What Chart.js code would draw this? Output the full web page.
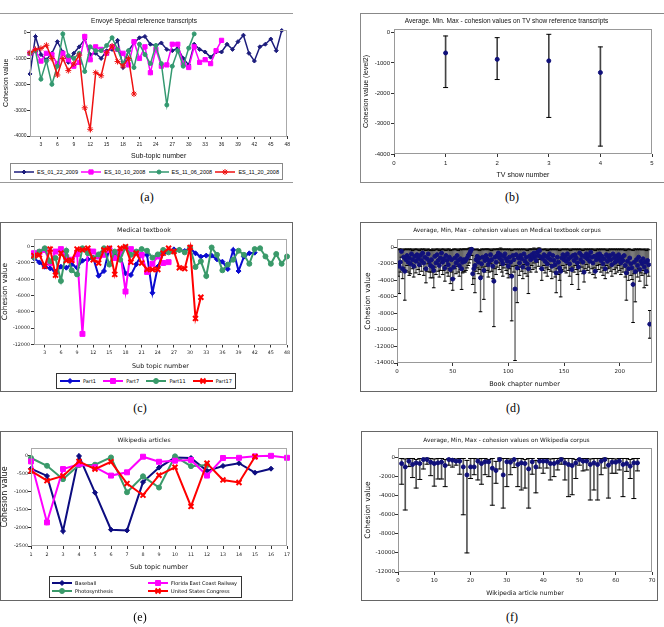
<!DOCTYPE html>
<html lang="en">
<head>
<meta charset="UTF-8">
<title>Cohesion values</title>
<script src="https://cdn.jsdelivr.net/npm/chart.js"></script>
<style>
  body { margin: 0; background: #fff; }
  #page { position: relative; width: 664px; height: 627px; overflow: hidden; }
  canvas.plot, .frame, .legend, .cap { position: absolute; }
  .frame { box-sizing: border-box; border: 1px solid #666; }
  .legend { box-sizing: border-box; border: 1px solid #333; display: flex; align-items: center;
            justify-content: space-between; padding: 0 3px; font-family: "DejaVu Sans", sans-serif;
            font-size: 5px; color: #000; background: #fff; }
  .legend .item { display: flex; align-items: center; white-space: nowrap; }
  .legend .item canvas { margin-right: 3px; }
  .legend.grid { display: grid; grid-template-columns: 96px 96px; grid-template-rows: 8px 8px;
                 grid-auto-flow: column; align-content: center; justify-content: start; padding: 0 0 0 2px; }
  .cap { width: 40px; text-align: center; font-family: "Liberation Serif", serif; font-size: 12px; line-height: 14px; }
</style>
</head>
<body>
<div id="page">
  <div class="frame" style="left:0;top:13px;width:293px;height:170px;border-left:none;border-right:none;border-color:#999"></div>
  <canvas class="plot" id="chartA" width="293" height="170" style="left:0;top:13px"></canvas>
  <div class="legend" id="legendA" style="left:10px;top:163px;width:273px;height:17px;border-color:#888;font-family:'Liberation Sans',sans-serif;font-size:5.5px"></div>
  <div class="cap" style="left:127px;top:190px">(a)</div>

  <div class="frame" style="left:360px;top:13px;width:304px;height:170px;border-right:none;border-color:#888"></div>
  <canvas class="plot" id="chartB" width="297" height="170" style="left:360px;top:13px"></canvas>
  <div class="cap" style="left:492px;top:190px">(b)</div>

  <div class="frame" style="left:0;top:222px;width:293px;height:170px"></div>
  <canvas class="plot" id="chartC" width="293" height="170" style="left:0;top:222px"></canvas>
  <div class="legend" id="legendC" style="left:56px;top:373px;width:180px;height:16px"></div>
  <div class="cap" style="left:120px;top:401px">(c)</div>

  <div class="frame" style="left:360px;top:222px;width:297px;height:170px"></div>
  <canvas class="plot" id="chartD" width="297" height="170" style="left:360px;top:222px"></canvas>
  <div class="cap" style="left:493px;top:401px">(d)</div>

  <div class="frame" style="left:0;top:431px;width:293px;height:170px"></div>
  <canvas class="plot" id="chartE" width="293" height="170" style="left:0;top:431px"></canvas>
  <div class="legend grid" id="legendE" style="left:49px;top:576px;width:193px;height:22px"></div>
  <div class="cap" style="left:120px;top:610px">(e)</div>

  <div class="frame" style="left:361px;top:431px;width:297px;height:170px"></div>
  <canvas class="plot" id="chartF" width="297" height="170" style="left:361px;top:431px"></canvas>
  <div class="cap" style="left:492px;top:610px">(f)</div>
</div>

<script>
// (a) Envoyé Spécial reference transcripts, cohesion per sub-topic
const esTopicTicks = [3, 6, 9, 12, 15, 18, 21, 24, 27, 30, 33, 36, 39, 42, 45, 48];
const esCohesionTicks = [0, -1000, -2000, -3000, -4000];
const es_01_22_2009 = [-1600, -150, -850, -1050, -800, -350, -750, -1150, -800, -550,
                       -250, -850, -800, -1000, -700, -650, -300, -1350, -700, -400,
                       -200, -150, -450, -500, -400, -650, -700, -600, -1000, -1250,
                       -450, -650, -750, -950, -750, -750, -450, -650, -350, -100,
                       -800, -1100, -550, -450, -250, -700, 80];
const es_10_10_2008 = [-800, -700, -1100, -800, -850, -1200, -800, -1050, -1300, -1150,
                       -150, -1050, -550, -650, -800, -550, -650, -800, -1250, -350,
                       -1000, -550, -1550, -650, -1300, -1250, -450, -450, -1200, -1350,
                       -550, -1150, -1050, -1200, -700, -300];
const es_11_06_2008 = [-800, -700, -1800, -1100, -2000, -1300, -50, -900, -1000, -800,
                       -1500, -550, -700, -700, -500, -200, -650, -1200, -700, -1350,
                       -450, -850, -1200, -500, -1200, -2800, -1300, -700, -1300, -600, -50];
const es_11_20_2008 = [-780, -650, -610, -490, -1000, -1640, -1000, -1470, -1210, -870,
                       -2910, -3740, -1550, -1670, -780, -520, -1120, -1290, -1000, -2375];

// (b) TV shows: average, min, max
const showNumbers = [1, 2, 3, 4];
const showAvg = [-670, -880, -930, -1315];
const showMin = [-1810, -1545, -2795, -3740];
const showMax = [-110, -165, -55, -470];
const showTicks = [0, 1, 2, 3, 4, 5];

// (c) Medical textbook parts
const medTopicTicks = [3, 6, 9, 12, 15, 18, 21, 24, 27, 30, 33, 36, 39, 42, 45, 48];
const medCohesionTicks = [0, -2000, -4000, -6000, -8000, -10000, -12000];
const part1 = [-1430, -1930, -2460, -2660, -3070, -2460, -2580, -2170, -2580, -1720,
               -1560, -1350, -3570, -2990, -200, -1100, -1100, -3280, -3480, -2170,
               -940, -1020, -5660, -2460, -820, -610, -330, -410, -530, -200,
               -820, -1230, -1100, -1100, -1560, -1840, -2750, -410, -2990, -1230, -820, -740];
const part7 = [-800, -700, -400, -2000, -600, -300, -1300, -1600, -900, -10700,
               -500, -600, -1200, -1000, -400, -1400, -600, -5500, -300, -800,
               -1000, -3100, -2100, -1200, -2000, -1900];
const part11 = [-1300, -600, -200, -1800, -1400, -4200, -500, -2900, -3400, -200,
                -800, -1400, -950, -200, -2200, -600, -1600, -100, -1000, -600,
                -300, -500, -1350, -950, -400, -700, -600, -400, -700, -100,
                -2500, -1800, -3600, -100, -1000, -2900, -2200, -1600, -500, -1000,
                -2100, -300, -200, -1200, -2100, -900, -2100, -1200];
const part17 = [-1100, -1000, -2400, -300, -3500, -800, -1700, -1700, -300, -400,
                -200, -1600, -2000, -400, -200, -3400, -200, 0, -1900, -800,
                -2000, -2800, -2800, -2800, -800, -200, -600, -2600, -2700, -100, -8800, -6200];

// (d) Medical textbook corpus: average, min, max per chapter
const chapterTicks = [0, 50, 100, 150, 200];
const chapterCohesionTicks = [0, -2000, -4000, -6000, -8000, -10000, -12000, -14000];
const chapterAvg = [
  -2100, -2300, -1800, -500, -2600, -1200, -2900, -1500, -1000, -1800,
  -1300, -2000, -800, -1500, -2300, -1100, -1700, -900, -1400, -2100,
  -1000, -1600, -700, -1900, -1200, -2600, -1400, -800, -1700, -2200,
  -1500, -2400, -2800, -1100, -1900, -900, -1600, -2200, -1300, -700,
  -1800, -1400, -2500, -1000, -1600, -2100, -1200, -2700, -1500, -3850,
  -2400, -1300, -1900, -1000, -1600, -2200, -1400, -2600, -1800, -1500,
  -1700, -1500, -1300, -1000, -800, -500, -250, -3200, -2600, -2200,
  -1500, -1100, -1800, -1300, -3700, -2000, -1200, -2800, -1600, -1000,
  -1400, -2100, -1700, -900, -1500, -2300, -4100, -1200, -1800, -1000,
  -700, -1300, -900, -1600, -2000, -1100, -800, -1400, -1700, -2300,
  -1200, -1800, -3500, -1000, -1500, -5050, -900, -2500, -1300, -1900,
  -1000, -1400, -2400, -800, -1700, -1200, -2000, -2600, -1100, -1500,
  -900, -1300, -700, -1100, -1600, -600, -1000, -400, -1200, -2600,
  -1400, -900, -1700, -1100, -2000, -1300, -800, -1500, -2300, -1000,
  -1600, -2100, -3100, -1200, -1800, -2500, -2900, -1300, -900, -1500,
  -1100, -1700, -800, -1400, -2000, -1200, -2700, -1000, -1600, -900,
  -1300, -1900, -2400, -700, -1500, -1000, -1800, -3000, -1200, -800,
  -1400, -1000, -1700, -600, -1200, -1900, -1100, -2900, -1500, -900,
  -1300, -800, -1600, -1100, -2000, -1400, -2600, -900, -1700, -1200,
  -1000, -1500, -2100, -800, -1300, -1800, -1100, -1600, -900, -1400,
  -1900, -1200, -1600, -1000, -2200, -3100, -1700, -2600, -1300, -2000,
  -2500, -4500, -1800, -2950, -1500, -2200, -1200, -2700, -1700, -2000,
  -1400, -2400, -1800, -2900, -1600, -2100, -9300];
const chapterMin = [
  -3500, -5600, -3000, -1200, -3800, -2500, -6400, -2800, -2200, -3000,
  -3400, -3200, -2000, -2600, -3600, -2400, -3100, -1800, -2700, -3300,
  -2300, -2900, -1800, -3400, -2600, -4300, -2900, -2000, -3000, -3700,
  -3000, -3700, -4900, -2400, -3300, -2000, -2900, -3600, -2800, -1900,
  -3300, -2800, -4100, -2200, -3100, -3500, -2600, -4400, -3000, -5200,
  -3800, -2600, -3200, -2300, -3000, -3500, -2700, -5100, -3100, -2900,
  -3000, -2800, -2500, -2200, -1900, -1500, -1000, -4500, -3800, -5500,
  -2900, -2500, -3200, -2700, -7800, -3500, -2400, -6300, -3000, -2300,
  -2800, -3600, -3000, -2000, -2900, -3800, -9600, -2600, -3300, -2400,
  -1900, -2700, -2200, -3000, -3500, -2500, -2100, -2800, -3200, -3700,
  -2600, -3300, -8900, -2300, -3000, -13700, -2200, -6700, -2700, -3400,
  -2400, -2900, -3800, -2100, -3200, -2600, -3500, -5600, -2500, -3000,
  -2200, -2700, -1900, -2500, -3000, -1800, -2300, -1500, -2600, -4000,
  -2800, -2200, -3100, -2500, -3500, -2700, -2100, -2900, -3800, -2400,
  -3000, -3600, -5500, -2600, -3300, -4000, -6000, -2700, -2200, -2900,
  -2500, -3100, -2100, -2800, -3500, -2600, -4500, -2400, -3000, -2200,
  -2700, -3300, -5100, -1900, -2900, -2400, -3200, -4200, -2600, -2100,
  -2800, -2400, -3100, -1800, -2600, -3300, -2500, -3700, -2900, -2200,
  -2700, -2100, -3000, -2500, -3400, -2800, -3800, -2200, -3100, -2600,
  -2400, -2900, -3500, -2100, -2700, -3200, -2500, -3000, -2200, -2800,
  -3300, -2600, -3000, -2400, -3600, -6400, -3100, -4000, -2700, -3400,
  -3900, -9100, -3200, -6600, -2900, -3600, -2600, -4100, -3100, -3400,
  -2800, -4900, -3200, -4600, -3000, -3500, -11000];
const chapterMax = [
  -300, -200, -300, -200, -400, -300, -200, -300, -200, -300,
  -200, -300, -200, -400, -300, -200, -300, -200, -300, -400,
  -200, -300, -200, -300, -200, -400, -300, -200, -300, -400,
  -300, -200, -400, -300, -200, -300, -200, -400, -300, -200,
  -300, -200, -300, -400, -200, -300, -200, -400, -300, -300,
  -200, -300, -200, -300, -400, -200, -300, -200, -300, -200,
  -200, -300, -200, -200, -100, -100, -100, -300, -200, -300,
  -300, -200, -300, -400, -300, -200, -300, -200, -300, -200,
  -200, -300, -200, -300, -400, -200, -300, -200, -300, -200,
  -200, -300, -100, -200, -300, -200, -300, -200, -300, -200,
  -300, -200, -400, -300, -200, -300, -200, -300, -200, -300,
  -200, -300, -200, -300, -200, -300, -400, -200, -300, -200,
  -200, -300, -100, -200, -300, -200, -100, -100, -200, -300,
  -300, -200, -300, -200, -400, -300, -200, -300, -200, -300,
  -200, -300, -200, -300, -200, -400, -300, -200, -300, -200,
  -300, -200, -300, -200, -300, -400, -200, -300, -200, -300,
  -200, -300, -200, -300, -200, -300, -400, -200, -300, -200,
  -300, -200, -300, -200, -300, -200, -300, -400, -200, -300,
  -200, -300, -200, -300, -200, -300, -200, -300, -400, -200,
  -300, -200, -300, -200, -300, -200, -300, -200, -300, -200,
  -300, -200, -300, -200, -400, -300, -200, -300, -200, -300,
  -300, -400, -200, -300, -200, -300, -200, -300, -200, -300,
  -300, -200, -300, -400, -200, -300, -7650];

// (e) Wikipedia articles
const wikiTopicTicks = [1, 2, 3, 4, 5, 6, 7, 8, 9, 10, 11, 12, 13, 14, 15, 16, 17];
const wikiCohesionTicks = [0, -500, -1000, -1500, -2000, -2500];
const baseball = [-370, -570, -2090, -20, -1030, -2050, -2070, -740, -340, -65, -75, -430, -295, -220, -480, -370];
const photosynthesis = [-75, -290, -660, -270, -260, -60, -1020, -580, -890, -30, -300, -270];
const floridaRailway = [-170, -1850, -380, -250, -330, -560, -470, -40, -180, -150, -130, -560, -75, -70, -30, -15, -70];
const usCongress = [-430, -700, -570, -170, -380, -180, -780, -1100, -550, -330, -1410, -220, -680, -750, -40];

// (f) Wikipedia corpus: average, min, max per article
const articleTicks = [0, 10, 20, 30, 40, 50, 60, 70];
const articleCohesionTicks = [0, -2000, -4000, -6000, -8000, -10000, -12000];
const articleAvg = [
  -630, -980, -380, -730, -560, -630, -210, -210, -490, -630,
  -560, -490, -840, -210, -280, -380, -380, -980, -1820, -980,
  -980, -380, -630, -450, -450, -1120, -1360, -210, -1820, -450,
  -490, -210, -730, -560, -630, -1190, -450, -980, -380, -380,
  -380, -630, -630, -490, -210, -560, -730, -840, -560, -210,
  -380, -380, -730, -560, -730, -380, -210, -800, -490, -490,
  -380, -730, -630, -910, -560, -560];
const articleMin = [
  -2800, -5500, -950, -2100, -3200, -2300, -1200, -700, -1900, -3000,
  -2250, -2250, -3050, -800, -1000, -800, -1750, -6000, -10000, -2200,
  -1800, -2350, -2800, -1800, -2000, -5000, -2700, -1200, -5300, -3050,
  -1800, -1050, -3050, -3400, -3200, -5300, -1750, -3700, -1100, -1650,
  -1100, -2350, -2000, -1300, -700, -2350, -4100, -3900, -2200, -800,
  -1400, -1300, -4450, -3400, -4450, -1800, -1100, -4250, -1650, -1650,
  -1300, -4100, -1450, -2200, -4300, -1400];
const articleMax = [
  -100, -150, -100, -100, -200, -100, -100, -50, -100, -150,
  -100, -100, -200, -100, -100, -150, -100, -100, -300, -100,
  -100, -150, -100, -100, -200, -100, -400, -50, -100, -100,
  -150, -100, -100, -100, -200, -100, -100, -300, -100, -100,
  -100, -150, -100, -100, -50, -100, -100, -100, -200, -100,
  -100, -100, -150, -100, -100, -100, -50, -100, -100, -150,
  -100, -100, -100, -200, -100, -100];

const FONT_XL = 'Liberation Sans';
const FONT_MPL = 'DejaVu Sans';
const NAVY = '#10107a';

Chart.defaults.font.family = FONT_MPL;
Chart.defaults.color = '#111';

// thin frame round the plotting area
const plotFrame = {
  id: 'plotFrame',
  afterDatasetsDraw(chart, args, opts) {
    const a = chart.chartArea, ctx = chart.ctx;
    ctx.save();
    ctx.strokeStyle = opts.color || '#999';
    ctx.lineWidth = 1;
    ctx.strokeRect(Math.round(a.left) + 0.5, Math.round(a.top) + 0.5,
                   Math.round(a.right - a.left) - 1, Math.round(a.bottom - a.top) - 1);
    ctx.restore();
  }
};
Chart.register(plotFrame);

function tickMarks() {
  return { display: true, drawOnChartArea: false, drawTicks: true, tickLength: 3, tickColor: '#333', offset: false };
}

function chartOptions(o) {
  const tl = o.titleSize * 1.2, xl = o.xTitleSize * 1.2, yl = o.yTitleSize * 1.2;
  const tick = { family: o.font, size: o.tickSize };
  return {
    responsive: false,
    animation: false,
    layout: { padding: { left: 0, top: 0, right: o.W - o.plot.r, bottom: 0 } },
    plugins: {
      legend: { display: false },
      tooltip: { enabled: false },
      title: {
        display: true, text: o.title, color: '#111',
        font: { family: o.font, size: o.titleSize, weight: 'normal' },
        padding: { top: o.titleY - tl / 2, bottom: o.plot.t - o.titleY - tl / 2 }
      },
      plotFrame: { color: o.frame }
    },
    scales: {
      x: {
        type: 'linear', min: o.xMin, max: o.xMax, offset: false,
        grid: tickMarks(), border: { display: false },
        ticks: { font: tick, color: '#222', padding: o.xPad, maxRotation: 0, autoSkip: false, callback: v => String(v) },
        afterBuildTicks: s => { s.ticks = o.xTicks.map(v => ({ value: v })); },
        afterFit: s => { s.height = o.H - o.plot.b; },
        title: {
          display: true, text: o.xTitle, color: '#111',
          font: { family: o.font, size: o.xTitleSize },
          padding: { top: 0, bottom: o.H - o.xTitleY - xl / 2 }
        }
      },
      y: {
        type: 'linear', min: o.yMin, max: o.yMax,
        grid: tickMarks(), border: { display: false },
        ticks: { font: tick, color: '#222', padding: o.yPad, autoSkip: false, callback: v => String(v) },
        afterBuildTicks: s => { s.ticks = o.yTicks.map(v => ({ value: v })); },
        afterFit: s => { s.width = o.plot.l; },
        title: {
          display: true, text: o.yTitle, color: '#111',
          font: { family: o.font, size: o.yTitleSize },
          padding: { top: o.yTitleX - yl / 2, bottom: 0 }
        }
      }
    }
  };
}

// legend swatch: line with the marker in the middle, same geometry as Chart.js point styles
function drawSwatch(cv, ds) {
  const ctx = cv.getContext('2d');
  const x = cv.width / 2, y = cv.height / 2, r = ds.pointRadius, s = r * Math.SQRT1_2;
  ctx.strokeStyle = ds.borderColor;
  ctx.fillStyle = ds.pointBackgroundColor;
  ctx.lineWidth = ds.borderWidth;
  ctx.beginPath(); ctx.moveTo(0, y); ctx.lineTo(cv.width, y); ctx.stroke();
  ctx.lineWidth = ds.pointBorderWidth;
  ctx.beginPath();
  if (ds.pointStyle === 'circle') ctx.arc(x, y, r, 0, 2 * Math.PI);
  else if (ds.pointStyle === 'rect') ctx.rect(x - s, y - s, 2 * s, 2 * s);
  else if (ds.pointStyle === 'rectRot') { ctx.moveTo(x - r, y); ctx.lineTo(x, y - r); ctx.lineTo(x + r, y); ctx.lineTo(x, y + r); ctx.closePath(); }
  else {
    ctx.moveTo(x - s, y - s); ctx.lineTo(x + s, y + s); ctx.moveTo(x + s, y - s); ctx.lineTo(x - s, y + s);
    if (ds.pointStyle === 'star') { ctx.moveTo(x - r, y); ctx.lineTo(x + r, y); ctx.moveTo(x, y - r); ctx.lineTo(x, y + r); }
  }
  ctx.fill();
  ctx.stroke();
}

function buildLegend(chart, el, order) {
  const sets = chart.data.datasets;
  (order || sets.map((d, i) => i)).forEach(i => {
    const ds = sets[i];
    const item = document.createElement('div');
    item.className = 'item';
    const sw = document.createElement('canvas');
    sw.width = 20; sw.height = 8;
    drawSwatch(sw, ds);
    const label = document.createElement('span');
    label.textContent = ds.label;
    item.appendChild(sw);
    item.appendChild(label);
    el.appendChild(item);
  });
}

function lineChart(id, legendId, o, series, legendOrder) {
  const n = series.length;
  const datasets = series.map((s, i) => ({
    label: s.label,
    data: s.values.map((v, k) => ({ x: k + 1, y: v })),
    borderColor: s.color, backgroundColor: s.color,
    pointBackgroundColor: s.color, pointBorderColor: s.color,
    borderWidth: o.lineWidth, pointStyle: s.marker, pointRadius: s.radius,
    pointBorderWidth: s.markerWidth || 1, order: n - 1 - i, clip: 6, tension: 0
  }));
  const chart = new Chart(document.getElementById(id), { type: 'line', data: { datasets }, options: chartOptions(o) });
  buildLegend(chart, document.getElementById(legendId), legendOrder);
  return chart;
}

function rangeChart(id, o, xs, avg, mins, maxs) {
  const datasets = [
    { type: 'scatter', data: xs.map((x, i) => ({ x, y: avg[i] })), pointStyle: 'circle',
      pointRadius: o.dot, backgroundColor: NAVY, borderColor: NAVY, order: 0 },
    { type: 'scatter', data: xs.map((x, i) => ({ x, y: maxs[i] })), pointStyle: 'line',
      pointRadius: o.cap, borderColor: '#000', pointBorderWidth: 1, order: 1 },
    { type: 'scatter', data: xs.map((x, i) => ({ x, y: mins[i] })), pointStyle: 'line',
      pointRadius: o.cap, borderColor: '#000', pointBorderWidth: 1, order: 1 },
    { type: 'bar', data: xs.map((x, i) => ({ x, y: [mins[i], maxs[i]] })), backgroundColor: o.barColor,
      barThickness: o.barWidth, borderWidth: 0, order: 2 }
  ];
  return new Chart(document.getElementById(id), { type: 'scatter', data: { datasets }, options: chartOptions(o) });
}

lineChart('chartA', 'legendA', {
  W: 293, H: 170, plot: { l: 30, r: 288, t: 16.5, b: 123 }, font: FONT_XL, frame: '#aaa', lineWidth: 1.5,
  title: 'Envoyé Spécial reference transcripts', titleSize: 6.5, titleY: 8,
  xTitle: 'Sub-topic number', xTitleSize: 7, xTitleY: 143, yTitle: 'Cohesion value', yTitleSize: 7, yTitleX: 6,
  tickSize: 5, xPad: 3, yPad: 0.5, xMin: 1, xMax: 48, yMin: -4000, yMax: 120,
  xTicks: esTopicTicks, yTicks: esCohesionTicks
}, [
  { label: 'ES_01_22_2009', values: es_01_22_2009, color: '#1c1c7c', marker: 'rectRot', radius: 2 },
  { label: 'ES_10_10_2008', values: es_10_10_2008, color: '#ff00ff', marker: 'rect', radius: 3 },
  { label: 'ES_11_06_2008', values: es_11_06_2008, color: '#339970', marker: 'circle', radius: 2 },
  { label: 'ES_11_20_2008', values: es_11_20_2008, color: '#ee1111', marker: 'star', radius: 3 }
]);

rangeChart('chartB', {
  W: 297, H: 170, plot: { l: 34, r: 293, t: 16, b: 141 }, font: FONT_XL, frame: '#999',
  title: 'Average. Min. Max - cohesion values on TV show reference transcripts', titleSize: 6.5, titleY: 8,
  xTitle: 'TV show number', xTitleSize: 7, xTitleY: 162, yTitle: 'Cohesion value (level2)', yTitleSize: 7, yTitleX: 6,
  tickSize: 6, xPad: 2.4, yPad: 1, xMin: 0, xMax: 5, yMin: -4000, yMax: 120,
  xTicks: showTicks, yTicks: esCohesionTicks, dot: 2, cap: 2.5, barColor: '#444', barWidth: 1
}, showNumbers, showAvg, showMin, showMax);

lineChart('chartC', 'legendC', {
  W: 293, H: 170, plot: { l: 34, r: 288, t: 16.5, b: 122.5 }, font: FONT_MPL, frame: '#aaa', lineWidth: 2,
  title: 'Medical textbook', titleSize: 6.3, titleY: 8.5,
  xTitle: 'Sub topic number', xTitleSize: 6.4, xTitleY: 144, yTitle: 'Cohesion value', yTitleSize: 7.5, yTitleX: 5,
  tickSize: 4.8, xPad: 2, yPad: 1, xMin: 1, xMax: 48, yMin: -12000, yMax: 1000,
  xTicks: medTopicTicks, yTicks: medCohesionTicks
}, [
  { label: 'Part1', values: part1, color: '#0a0ad0', marker: 'rectRot', radius: 2.5 },
  { label: 'Part7', values: part7, color: '#ff00ff', marker: 'rect', radius: 3.5 },
  { label: 'Part11', values: part11, color: '#3a9a6a', marker: 'circle', radius: 2.5 },
  { label: 'Part17', values: part17, color: '#ff0000', marker: 'crossRot', radius: 3.5, markerWidth: 2 }
]);

rangeChart('chartD', {
  W: 297, H: 170, plot: { l: 37, r: 294, t: 17, b: 141 }, font: FONT_MPL, frame: '#999',
  title: 'Average, Min, Max - cohesion values on Medical textbook corpus', titleSize: 5.8, titleY: 8,
  xTitle: 'Book chapter number', xTitleSize: 6.5, xTitleY: 162, yTitle: 'Cohesion value', yTitleSize: 7.5, yTitleX: 8,
  tickSize: 5.5, xPad: 2.4, yPad: 0, xMin: 0, xMax: 229, yMin: -14000, yMax: 1000,
  xTicks: chapterTicks, yTicks: chapterCohesionTicks, dot: 2, cap: 1.8, barColor: '#666', barWidth: 0.7
}, chapterAvg.map((v, i) => i + 1), chapterAvg, chapterMin, chapterMax);

lineChart('chartE', 'legendE', {
  W: 293, H: 170, plot: { l: 31, r: 288, t: 17, b: 115 }, font: FONT_MPL, frame: '#aaa', lineWidth: 2,
  title: 'Wikipedia articles', titleSize: 6, titleY: 9,
  xTitle: 'Sub topic number', xTitleSize: 6.5, xTitleY: 136, yTitle: 'Cohesion value', yTitleSize: 8, yTitleX: 5,
  tickSize: 4.8, xPad: 2.4, yPad: 0, xMin: 1, xMax: 17, yMin: -2500, yMax: 200,
  xTicks: wikiTopicTicks, yTicks: wikiCohesionTicks
}, [
  { label: 'Baseball', values: baseball, color: '#0c0c80', marker: 'rectRot', radius: 2.5 },
  { label: 'Photosynthesis', values: photosynthesis, color: '#3a9a6a', marker: 'circle', radius: 2.5 },
  { label: 'Florida East Coast Railway', values: floridaRailway, color: '#ff00ff', marker: 'rect', radius: 3.5 },
  { label: 'United States Congress', values: usCongress, color: '#ff0000', marker: 'crossRot', radius: 3.5, markerWidth: 2 }
]);

rangeChart('chartF', {
  W: 297, H: 170, plot: { l: 37, r: 291, t: 17, b: 141 }, font: FONT_MPL, frame: '#999',
  title: 'Average, Min, Max - cohesion values on Wikipedia corpus', titleSize: 5.8, titleY: 9,
  xTitle: 'Wikipedia article number', xTitleSize: 6.2, xTitleY: 162, yTitle: 'Cohesion value', yTitleSize: 7.5, yTitleX: 7,
  tickSize: 5.5, xPad: 2.4, yPad: 0, xMin: 0, xMax: 70, yMin: -12000, yMax: 1000,
  xTicks: articleTicks, yTicks: articleCohesionTicks, dot: 2, cap: 2.5, barColor: '#555', barWidth: 1
}, articleAvg.map((v, i) => i + 1), articleAvg, articleMin, articleMax);
</script>
</body>
</html>
